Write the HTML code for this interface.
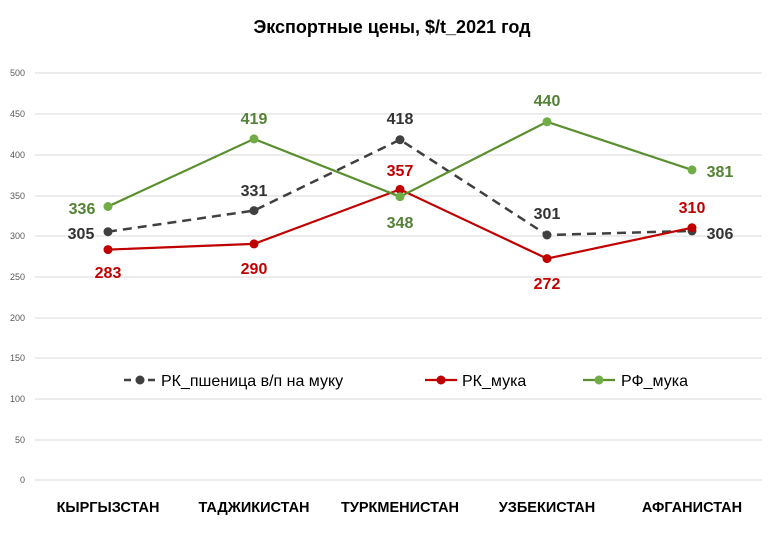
<!DOCTYPE html>
<html><head><meta charset="utf-8"><style>
body{margin:0;background:#fff}
svg{display:block;font-family:"Liberation Sans",sans-serif}
</style></head><body>
<svg width="780" height="542" viewBox="0 0 780 542">
<rect width="780" height="542" fill="#fff"/>
<text x="392" y="33" text-anchor="middle" font-size="18" font-weight="bold" fill="#000">Экспортные цены, $/t_2021 год</text>
<g stroke="#d9d9d9" stroke-width="1">
<line x1="35" x2="762" y1="73" y2="73"/><line x1="35" x2="762" y1="114" y2="114"/>
<line x1="35" x2="762" y1="155" y2="155"/><line x1="35" x2="762" y1="196" y2="196"/>
<line x1="35" x2="762" y1="236" y2="236"/><line x1="35" x2="762" y1="277" y2="277"/>
<line x1="35" x2="762" y1="318" y2="318"/><line x1="35" x2="762" y1="358" y2="358"/>
<line x1="35" x2="762" y1="399" y2="399"/><line x1="35" x2="762" y1="440" y2="440"/>
<line x1="35" x2="762" y1="480" y2="480"/>
</g>
<g font-size="9" fill="#595959" text-anchor="end">
<text x="25" y="76">500</text><text x="25" y="117">450</text><text x="25" y="158">400</text>
<text x="25" y="199">350</text><text x="25" y="239">300</text><text x="25" y="280">250</text>
<text x="25" y="321">200</text><text x="25" y="361">150</text><text x="25" y="402">100</text>
<text x="25" y="443">50</text><text x="25" y="483">0</text>
</g>
<polyline points="108,231.7 254,210.6 400,139.7 547,235 692,230.9" fill="none" stroke="#404040" stroke-width="2.5" stroke-dasharray="9,6"/>
<polyline points="108,249.6 254,243.9 400,189.4 547,258.6 692,227.7" fill="none" stroke="#c00000" stroke-width="2.2"/>
<polyline points="108,206.5 254,138.9 400,196.7 547,121.8 692,169.9" fill="none" stroke="#5a8f2f" stroke-width="2.2"/>
<g fill="#404040"><circle cx="108" cy="231.7" r="4.5"/><circle cx="254" cy="210.6" r="4.5"/><circle cx="400" cy="139.7" r="4.5"/><circle cx="547" cy="235" r="4.5"/><circle cx="692" cy="230.9" r="4.5"/></g>
<g fill="#c00000"><circle cx="108" cy="249.6" r="4.5"/><circle cx="254" cy="243.9" r="4.5"/><circle cx="400" cy="189.4" r="4.5"/><circle cx="547" cy="258.6" r="4.5"/><circle cx="692" cy="227.7" r="4.5"/></g>
<g fill="#70ad47"><circle cx="108" cy="206.5" r="4.5"/><circle cx="254" cy="138.9" r="4.5"/><circle cx="400" cy="196.7" r="4.5"/><circle cx="547" cy="121.8" r="4.5"/><circle cx="692" cy="169.9" r="4.5"/></g>
<g font-size="16" font-weight="bold" text-anchor="middle">
<text x="82" y="214" fill="#538135">336</text>
<text x="81" y="239" fill="#333">305</text>
<text x="108" y="278" fill="#c00000">283</text>
<text x="254" y="124" fill="#538135">419</text>
<text x="254" y="196" fill="#333">331</text>
<text x="254" y="274" fill="#c00000">290</text>
<text x="400" y="124" fill="#333">418</text>
<text x="400" y="176" fill="#c00000">357</text>
<text x="400" y="228" fill="#538135">348</text>
<text x="547" y="106" fill="#538135">440</text>
<text x="547" y="219" fill="#333">301</text>
<text x="547" y="289" fill="#c00000">272</text>
<text x="692" y="213" fill="#c00000">310</text>
<text x="720" y="239" fill="#333">306</text>
<text x="720" y="177" fill="#538135">381</text>
</g>
<line x1="124" x2="156" y1="380" y2="380" stroke="#404040" stroke-width="2.5" stroke-dasharray="7,5"/>
<circle cx="140" cy="380" r="4.5" fill="#404040"/>
<text x="161" y="386" font-size="16" fill="#000">РК_пшеница в/п на муку</text>
<line x1="425" x2="457" y1="380" y2="380" stroke="#c00000" stroke-width="2.2"/>
<circle cx="441" cy="380" r="4.5" fill="#c00000"/>
<text x="462" y="386" font-size="16" fill="#000">РК_мука</text>
<line x1="583" x2="615" y1="380" y2="380" stroke="#5a8f2f" stroke-width="2.2"/>
<circle cx="599" cy="380" r="4.5" fill="#70ad47"/>
<text x="621" y="386" font-size="16" fill="#000">РФ_мука</text>
<g font-size="14.5" font-weight="bold" fill="#000" text-anchor="middle">
<text x="108" y="512">КЫРГЫЗСТАН</text>
<text x="254" y="512">ТАДЖИКИСТАН</text>
<text x="400" y="512">ТУРКМЕНИСТАН</text>
<text x="547" y="512">УЗБЕКИСТАН</text>
<text x="692" y="512">АФГАНИСТАН</text>
</g>
</svg>
</body></html>
